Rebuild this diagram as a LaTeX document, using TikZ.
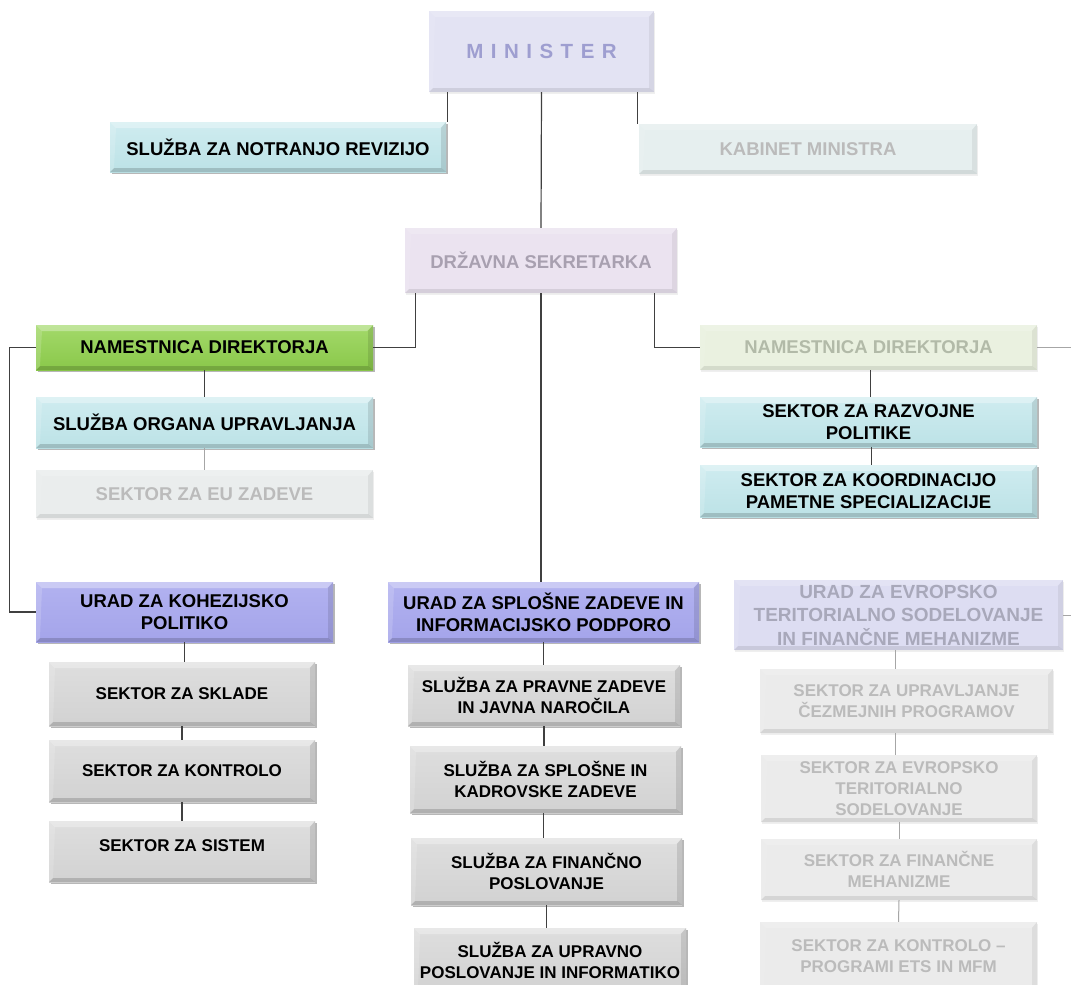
\documentclass[tikz,border=0pt]{standalone}
\usepackage{fontspec}
\setmainfont{Liberation Sans}
\usetikzlibrary{shadows}
\definecolor{cyT}{HTML}{CFECF0}\definecolor{cyB}{HTML}{BCE2E6}
\definecolor{grT}{HTML}{A3D96A}\definecolor{grB}{HTML}{8AC84A}
\definecolor{puT}{HTML}{B2B2F0}\definecolor{puB}{HTML}{A4A4EA}
\definecolor{gyT}{HTML}{DEDEDE}\definecolor{gyB}{HTML}{D2D2D2}
\definecolor{fMin}{HTML}{E3E3F3}\definecolor{tMin}{HTML}{9E9ED0}
\definecolor{fDrz}{HTML}{EBE3F0}\definecolor{tDrz}{HTML}{A8A0B0}
\definecolor{fCy}{HTML}{E6EFEF}
\definecolor{fGy}{HTML}{EAEDED}
\definecolor{fGr}{HTML}{EAF1E0}\definecolor{tGr}{HTML}{B2BAA8}
\definecolor{fPu}{HTML}{DDDDF2}\definecolor{tPu}{HTML}{A8A8BA}
\definecolor{fLg}{HTML}{EBEBEB}
\definecolor{tFd}{HTML}{BBBBBB}
\tikzset{
 org/.style={rectangle, inner sep=1pt, align=center, text=black,
   font=\bfseries\fontsize{18.5}{22}\selectfont},
 sm/.style={font=\bfseries\fontsize{17}{21}\selectfont},
 bevel/.style={path picture={
   \fill[white,opacity=#1] (path picture bounding box.north west) -- (path picture bounding box.north east)
     -- ([xshift=-6pt,yshift=-6pt]path picture bounding box.north east) -- ([xshift=6pt,yshift=-6pt]path picture bounding box.north west) -- cycle;
   \fill[black,opacity=#1/3] (path picture bounding box.north east) -- (path picture bounding box.south east)
     -- ([xshift=-5pt,yshift=4pt]path picture bounding box.south east) -- ([xshift=-5pt,yshift=-6pt]path picture bounding box.north east) -- cycle;
   \fill[black,opacity=#1/2] (path picture bounding box.south west) -- (path picture bounding box.south east)
     -- ([xshift=-5pt,yshift=4pt]path picture bounding box.south east) -- ([xshift=4pt,yshift=4pt]path picture bounding box.south west) -- cycle;
   \fill[white,opacity=#1/2] (path picture bounding box.north west) -- (path picture bounding box.south west)
     -- ([xshift=4pt,yshift=4pt]path picture bounding box.south west) -- ([xshift=6pt,yshift=-6pt]path picture bounding box.north west) -- cycle;
 }},
 strong/.style={bevel=.32, drop shadow={shadow xshift=1.5pt, shadow yshift=-2pt, opacity=.4, fill=black!70}},
 faint/.style={bevel=.18, drop shadow={shadow xshift=1pt, shadow yshift=-1.5pt, opacity=.12}},
 cybox/.style={org, strong, top color=cyT, bottom color=cyB},
 grbox/.style={org, strong, top color=grT, bottom color=grB},
 pubox/.style={org, strong, top color=puT, bottom color=puB},
 gybox/.style={org, sm, strong, top color=gyT, bottom color=gyB},
 minbox/.style={org, faint, fill=fMin, text=tMin, font=\bfseries\fontsize{20.5}{22}\selectfont},
 drzbox/.style={org, faint, fill=fDrz, text=tDrz},
 fcybox/.style={org, faint, fill=fCy, text=tFd},
 fgybox/.style={org, faint, fill=fGy, text=tFd},
 fgrbox/.style={org, faint, fill=fGr, text=tGr},
 fpubox/.style={org, faint, fill=fPu, text=tPu, font=\bfseries\fontsize{19}{23.5}\selectfont},
 flgbox/.style={org, sm, faint, fill=fLg, text=tFd},
 link/.style={draw=black!75, line width=1.2pt},
 flink/.style={draw=black!35, line width=1pt},
}
\begin{document}
\begin{tikzpicture}[x=1pt,y=-1pt]
\useasboundingbox (0,0) rectangle (1071,985);
\clip (0,0) rectangle (1071,985);
\fill[white] (0,0) rectangle (1071,985);
% top level
\node[minbox, minimum width=225pt, minimum height=81pt] (min) at (541.5,51.5)
 {M\hspace{7.5pt}I\hspace{7.5pt}N\hspace{7.5pt}I\hspace{7.5pt}S\hspace{7.5pt}T\hspace{7.5pt}E\hspace{7.5pt}R};
\node[cybox, minimum width=336pt, minimum height=50pt] (snr) at (278,147) {SLUŽBA ZA NOTRANJO REVIZIJO};
\node[fcybox, minimum width=338pt, minimum height=50pt] (kab) at (808,149) {KABINET MINISTRA};
\node[drzbox, minimum width=272pt, minimum height=65pt] (drz) at (541,260.5) {DRŽAVNA SEKRETARKA};
% left branch
\node[grbox, minimum width=337pt, minimum height=45pt] (naml) at (204.5,347.5) {NAMESTNICA DIREKTORJA};
\node[cybox, minimum width=337pt, minimum height=51pt] (sou) at (204.5,422.5) {SLUŽBA ORGANA UPRAVLJANJA};
\node[fgybox, minimum width=337pt, minimum height=48pt] (eu) at (204.5,494) {SEKTOR ZA EU ZADEVE};
% right branch
\node[fgrbox, minimum width=337pt, minimum height=45pt] (namr) at (868.5,347.5) {NAMESTNICA DIREKTORJA};
\node[cybox, minimum width=337pt, minimum height=50pt] (raz) at (868.5,422) {SEKTOR ZA RAZVOJNE\\POLITIKE};
\node[cybox, minimum width=337pt, minimum height=52pt] (koo) at (868.5,491) {SEKTOR ZA KOORDINACIJO\\PAMETNE SPECIALIZACIJE};
% urad kohezija
\node[pubox, minimum width=297pt, minimum height=60pt] (ukp) at (184.5,612) {URAD ZA KOHEZIJSKO\\POLITIKO};
\node[gybox, minimum width=266pt, minimum height=64pt] (skl) at (182,694) {SEKTOR ZA SKLADE};
\node[gybox, minimum width=266pt, minimum height=62pt] (kon) at (182,771) {SEKTOR ZA KONTROLO};
\node[gybox, minimum width=266pt, minimum height=61pt] (sis) at (182,851.5) {\raisebox{6.5pt}[12pt][0pt]{SEKTOR ZA SISTEM}};
% urad splosne
\node[pubox, minimum width=311pt, minimum height=60pt] (usz) at (543.5,612) {URAD ZA SPLOŠNE ZADEVE IN\\INFORMACIJSKO PODPORO};
\node[gybox, minimum width=272pt, minimum height=61pt] (pra) at (544,695.5) {SLUŽBA ZA PRAVNE ZADEVE\\IN JAVNA NAROČILA};
\node[gybox, minimum width=271pt, minimum height=67pt] (kad) at (545.5,779.5) {SLUŽBA ZA SPLOŠNE IN\\KADROVSKE ZADEVE};
\node[gybox, minimum width=271pt, minimum height=67pt] (fin) at (546.5,871.5) {SLUŽBA ZA FINANČNO\\POSLOVANJE};
\node[gybox, minimum width=272pt, minimum height=64pt] (upr) at (550,960) {SLUŽBA ZA UPRAVNO\\POSLOVANJE IN INFORMATIKO};
% urad ets
\node[fpubox, minimum width=329pt, minimum height=70pt] (uet) at (898.5,615) {URAD ZA EVROPSKO\\TERITORIALNO SODELOVANJE\\IN FINANČNE MEHANIZME};
\node[flgbox, minimum width=293pt, minimum height=64pt] (ucp) at (906.5,701) {SEKTOR ZA UPRAVLJANJE\\ČEZMEJNIH PROGRAMOV};
\node[flgbox, minimum width=276pt, minimum height=67pt] (ets) at (899,788.5) {SEKTOR ZA EVROPSKO\\TERITORIALNO\\SODELOVANJE};
\node[flgbox, minimum width=276pt, minimum height=61pt] (fm) at (899,869.5) {SEKTOR ZA FINANČNE\\MEHANIZME};
\node[flgbox, minimum width=277pt, minimum height=68pt] (ket) at (898.5,956) {SEKTOR ZA KONTROLO –\\PROGRAMI ETS IN MFM};
% free ends
\coordinate (re) at (1071,347.5);
\coordinate (re2) at (1071,615);
% connectors
\draw[link] ([xshift=1pt]min.south -| snr.east) -- ([xshift=1pt]snr.north east);
\draw[link] (min.south) -- (drz.north);
\draw[link] ([xshift=-1pt]min.south -| kab.west) -- ([xshift=-1pt]kab.north west);
\draw[link] ([xshift=11pt]drz.south west) |- (naml.east);
\draw[link] (drz.south) -- (drz.south |- usz.north);
\draw[link] ([xshift=-23pt]drz.south east) |- (namr.west);
\draw[link] (naml.west) -- ++(-26,0) |- (ukp.west);
\draw[link] (naml.south) -- (sou.north);
\draw[flink] (sou.south) -- (eu.north);
\draw[flink] (namr.east) -- (re);
\draw[link] ([xshift=2pt]namr.south) -- ([xshift=2pt]namr.south |- raz.north);
\draw[link] ([xshift=3pt]raz.south) -- ([xshift=3pt]raz.south |- koo.north);
\draw[link] (ukp.south) -- (ukp.south |- skl.north);
\draw[link] (skl.south) -- (kon.north);
\draw[link] (kon.south) -- (sis.north);
\draw[link] (usz.south) -- (usz.south |- pra.north);
\draw[link] (pra.south) -- (pra.south |- kad.north);
\draw[link] ([xshift=-2pt]kad.south) -- ([xshift=-2pt]kad.south |- fin.north);
\draw[link] (fin.south) -- (fin.south |- upr.north);
\draw[flink] (uet.east) -- (re2);
\draw[flink] ([xshift=-3pt]uet.south) -- ([xshift=-3pt]uet.south |- ucp.north);
\draw[flink] ([xshift=-11pt]ucp.south) -- ([xshift=-11pt]ucp.south |- ets.north);
\draw[flink] (ets.south) -- (fm.north);
\draw[flink] (fm.south) -- (ket.north);
\end{tikzpicture}
\end{document}
